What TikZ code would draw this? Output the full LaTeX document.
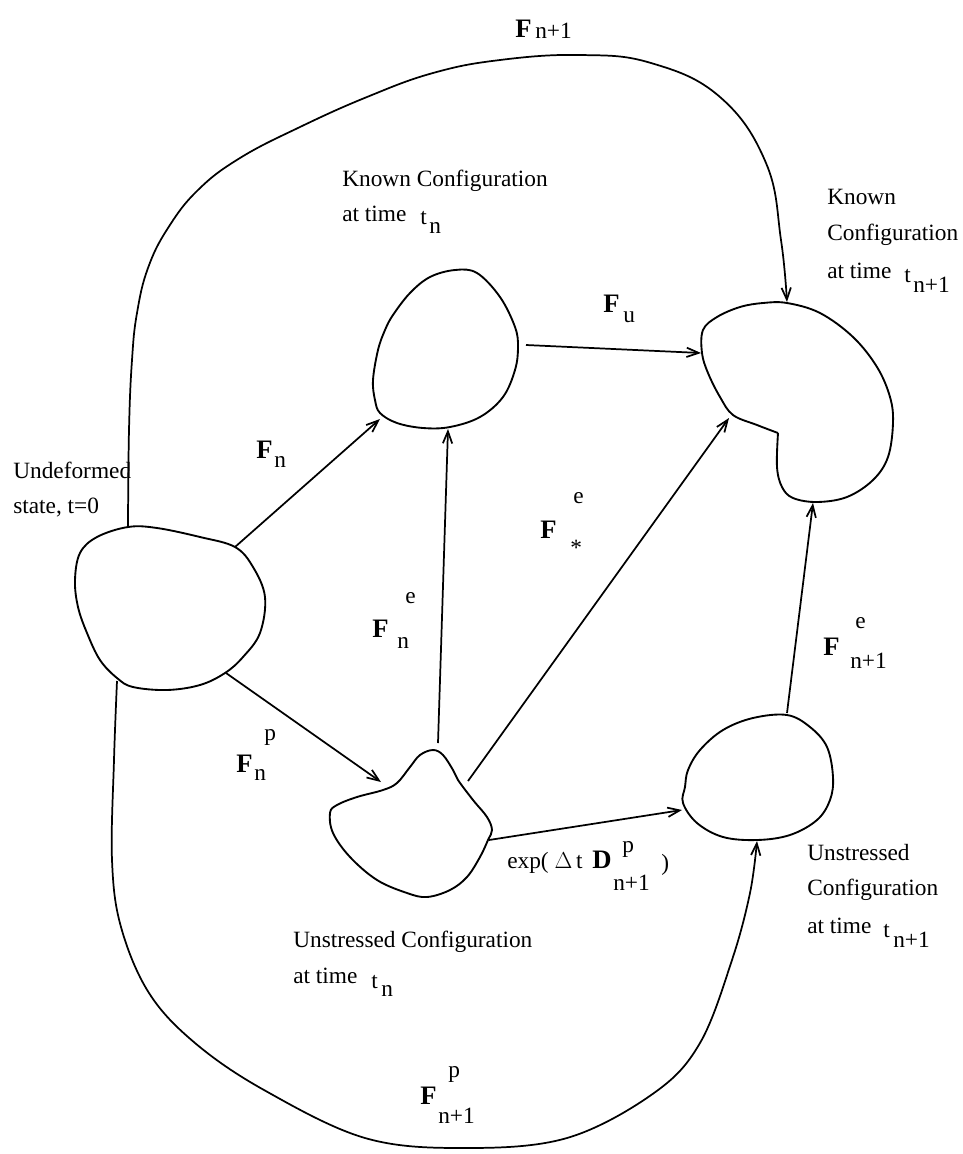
\documentclass[tikz,border=0pt]{standalone}
\usepackage{fontspec}
\setmainfont{Liberation Serif}
\usetikzlibrary{arrows.meta}
\tikzset{
  blob/.style={line width=1.4pt, line join=round},
  conn/.style={line width=1.3pt, -{Straight Barb[length=9pt,width=7pt,line width=1.3pt]}},
  txt/.style={anchor=base west, inner sep=0pt, font=\fontsize{17.5}{20}\selectfont},
  bold/.style={anchor=base west, inner sep=0pt, font=\fontsize{20}{24}\selectfont\bfseries},
}
\begin{document}
\begin{tikzpicture}[x=0.75pt,y=-0.75pt]
\useasboundingbox (0,0) rectangle (963,1154);
% blobs
\draw[blob] plot[smooth cycle, tension=0.6] coordinates {(128,527) (157,528) (200,537) (235,547) (253,567) (265,597) (260,633) (243,657) (225,673) (200,685) (167,690) (133,687) (117,678) (100,660) (87,633) (78,607) (75,580) (80,553) (97,537)};
\draw[blob] plot[smooth cycle, tension=0.6] coordinates {(455,270) (477,273) (500,297) (515,327) (518,347) (515,370) (503,397) (480,417) (450,427) (423,428) (397,423) (380,413) (375,400) (373,380) (378,350) (385,330) (393,315) (410,293) (430,277)};
\draw[blob] plot[smooth cycle, tension=0.6] coordinates {(433,750) (443,755) (453,770) (458,780) (473,800) (487,817) (492,830) (488,840) (480,857) (467,877) (450,890) (427,897) (407,893) (377,880) (350,857) (333,833) (330,813) (337,805) (357,797) (383,790) (397,783) (410,767) (420,755)};
\draw[blob] plot[smooth, tension=0.6] coordinates {(778,433) (777,467) (782,487) (793,498) (817,502) (847,497) (873,480) (888,457) (893,423) (890,397) (877,367) (853,337) (820,313) (787,303) (763,303) (740,307) (717,317) (703,330) (702,353) (708,373) (720,397) (733,415) (757,425) (778,433)};
\draw[blob] plot[smooth cycle, tension=0.6] coordinates {(787,715) (810,727) (827,747) (833,777) (830,800) (817,820) (790,835) (757,840) (723,837) (697,823) (683,803) (685,787) (688,770) (700,750) (723,730) (753,718)};
% connector ends
\coordinate (Atop) at (128,527);
\coordinate (Abot) at (117,681);
\coordinate (Aur) at (235,547);
\coordinate (Alr) at (226,673);
\coordinate (Bbot) at (448,429);
\coordinate (Bll) at (380,419);
\coordinate (Br) at (526,345);
\coordinate (Ctop) at (438,743);
\coordinate (Cur) at (468,781);
\coordinate (Cl) at (381,782);
\coordinate (Cr) at (489,840);
\coordinate (Dtop) at (787,302);
\coordinate (Dl) at (701,353);
\coordinate (Dll) at (729,418);
\coordinate (Dbot) at (813,503);
\coordinate (Etop) at (787,713);
\coordinate (El) at (682,810);
\coordinate (Ebot) at (757,841);
% connectors
\draw[conn] plot[smooth, tension=0.7] coordinates {(Atop) (129,430) (132,360) (137,313) (148,268) (168,228) (198,190) (240,158) (300,127) (367,97) (433,73) (500,60) (580,55) (651,63) (720,97) (766,163) (781,240) (Dtop)};
\draw[conn] plot[smooth, tension=0.6] coordinates {(Abot) (114,760) (112,860) (121,927) (149,993) (195,1043) (264,1090) (365,1138) (465,1148) (567,1138) (654,1093) (700,1043) (732,960) (750,893) (Ebot)};
\draw[conn] (Aur) -- (Bll);
\draw[conn] (Alr) -- (Cl);
\draw[conn] (Ctop) -- (Bbot);
\draw[conn] (Cur) -- (Dll);
\draw[conn] (Br) -- (Dl);
\draw[conn] (Cr) -- (El);
\draw[conn] (Etop) -- (Dbot);
% texts
\node[bold] (t1) at (515,37) {F};
\node[txt] (t2) at (535,38) {n+1};
\node[txt] (k1) at (342,186) {Known Configuration};
\node[txt] (k2) at (342,221) {at time};
\node[txt] (k3) at (420,224) {t};
\node[txt] (k4) at (429,233) {n};
\node[txt] (r1) at (827,204) {Known};
\node[txt] (r2) at (827,240) {Configuration};
\node[txt] (r3) at (827,278) {at time};
\node[txt] (r4) at (904,282) {t};
\node[txt] (r5) at (913,292) {n+1};
\node[bold] (fu1) at (603,312) {F};
\node[txt] (fu2) at (623,322) {u};
\node[bold] (fn1) at (256,458) {F};
\node[txt] (fn2) at (274,467) {n};
\node[txt] (u1) at (13,478) {Undeformed};
\node[txt] (u2) at (13,513) {state, t=0};
\node[bold] (fs1) at (540,538) {F};
\node[txt] (fs2) at (573,503) {e};
\node[txt] (fs3) at (570,555) {*};
\node[bold] (fe1) at (372,637) {F};
\node[txt] (fe2) at (405,603) {e};
\node[txt] (fe3) at (397,648) {n};
\node[bold] (fm1) at (823,655) {F};
\node[txt] (fm2) at (855,628) {e};
\node[txt] (fm3) at (850,668) {n+1};
\node[txt] (fp1) at (264,740) {p};
\node[bold] (fp2) at (236,772) {F};
\node[txt] (fp3) at (254,780) {n};
\node[txt] (x1) at (507,868) {exp( $\Delta$\,t};
\node[bold] (x2) at (592,868) {D};
\node[txt] (x3) at (622,852) {p};
\node[txt] (x4) at (613,890) {n+1};
\node[txt] (x5) at (661,870) {)};
\node[txt] (s1) at (807,860) {Unstressed};
\node[txt] (s2) at (807,895) {Configuration};
\node[txt] (s3) at (807,933) {at time};
\node[txt] (s4) at (883,937) {t};
\node[txt] (s5) at (893,947) {n+1};
\node[txt] (v1) at (293,947) {Unstressed Configuration};
\node[txt] (v2) at (293,983) {at time};
\node[txt] (v3) at (371,988) {t};
\node[txt] (v4) at (381,996) {n};
\node[txt] (b1) at (448,1077) {p};
\node[bold] (b2) at (420,1104) {F};
\node[txt] (b3) at (438,1123) {n+1};
\end{tikzpicture}
\end{document}
